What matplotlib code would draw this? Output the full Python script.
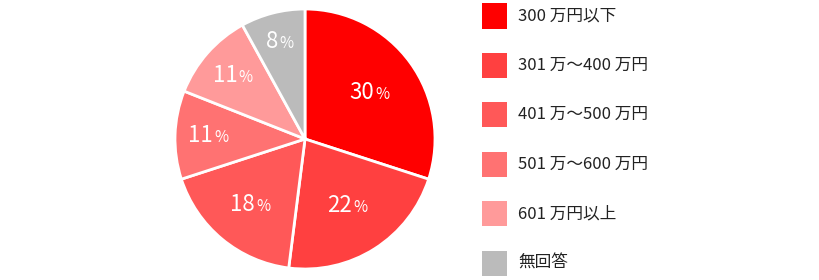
import numpy as np
import matplotlib
matplotlib.use("Agg")
import matplotlib.pyplot as plt
from matplotlib.patches import Rectangle
from matplotlib.offsetbox import TextArea, HPacker, AnnotationBbox

plt.rcParams['font.family'] = ['Noto Sans CJK JP', 'DejaVu Sans']

# datos del grafico
categorias = ["300 万円以下", "301 万～400 万円", "401 万～500 万円",
              "501 万～600 万円", "601 万円以上", "無回答"]
valores = [30, 22, 18, 11, 11, 8]
colores = ["#ff0000", "#ff4040", "#ff5858", "#ff7272", "#ff9a9a", "#bbbbbb"]

fig = plt.figure(figsize=(8.2, 2.8), dpi=100)
ax = fig.add_axes([175/820, 11/280, 260/820, 260/280])

wedges, _ = ax.pie(valores, colors=colores, startangle=90, counterclock=False,
                   wedgeprops=dict(edgecolor="white", linewidth=2))
ax.set_xlim(-1, 1)
ax.set_ylim(-1, 1)
ax.set_aspect("equal")

# etiquetas de porcentaje
for w, v in zip(wedges, valores):
    ang = np.deg2rad((w.theta1 + w.theta2) / 2)
    d = min(0.78, max(0.61, 0.61 + (22 - v) * 0.012))
    x, y = d * np.cos(ang), d * np.sin(ang)
    caja = HPacker(children=[
        TextArea(str(v), textprops=dict(color="white", fontsize=16)),
        TextArea("%", textprops=dict(color="white", fontsize=11))],
        align="baseline", pad=0, sep=1)
    ab = AnnotationBbox(caja, (x, y), frameon=False, box_alignment=(0.5, 0.5), pad=0)
    ax.add_artist(ab)

# leyenda manual
for i, (c, col) in enumerate(zip(categorias, colores)):
    yc = 1 - (16 + 49.4 * i) / 280
    fig.patches.append(Rectangle((482/820, yc - 12.5/280), 25/820, 25/280,
                                 transform=fig.transFigure, facecolor=col,
                                 edgecolor="none"))
    fig.text(518/820, yc, c, fontsize=12, va="center", ha="left", color="#222222")

plt.savefig("out.png", dpi=100)
